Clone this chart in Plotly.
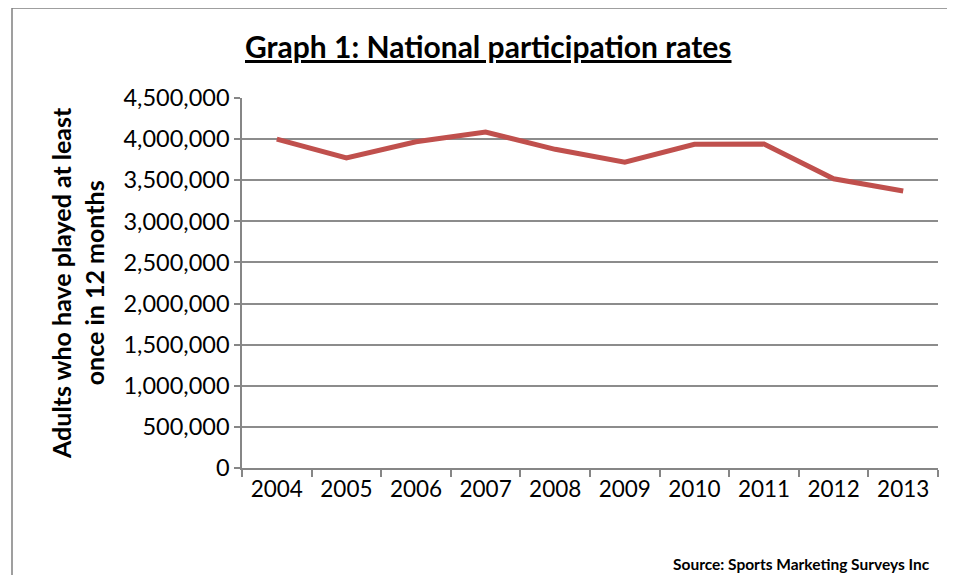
import plotly.graph_objects as go

years = ["2004", "2005", "2006", "2007", "2008", "2009", "2010", "2011", "2012", "2013"]
participants = [4000000, 3772000, 3968000, 4085000, 3876000, 3720000, 3937000, 3940000, 3518000, 3368000]
y_ticks = [0, 500000, 1000000, 1500000, 2000000, 2500000, 3000000, 3500000, 4000000, 4500000]
y_tick_labels = ["0", "500,000", "1,000,000", "1,500,000", "2,000,000", "2,500,000",
                 "3,000,000", "3,500,000", "4,000,000", "4,500,000"]

W, H = 940, 568
OFF = 7  # page offset of the figure inside the browser window
L, T = 241 - OFF, 97 - OFF
R = W - (937 - OFF)
B = H - (467 - OFF)
pw, ph = W - L - R, H - T - B

def px(x):
    return (x - OFF - L) / pw

def py(y):
    return (H - B - (y - OFF)) / ph

font = "Lato"

fig = go.Figure()
fig.add_trace(go.Scatter(
    x=years, y=participants, mode="lines",
    line=dict(color="#C0504D", width=5),
    hoverinfo="x+y",
))

fig.update_layout(
    width=W, height=H,
    margin=dict(l=L, r=R, t=T, b=B, autoexpand=False),
    paper_bgcolor="white", plot_bgcolor="white",
    showlegend=False,
    font=dict(family=font, color="black"),
    xaxis=dict(
        type="category", range=[-0.5, 9.5], tickson="boundaries",
        ticks="outside", ticklen=7,
        tickcolor="#868686", tickwidth=1.5, automargin=False,
        showline=True, linecolor="#868686", linewidth=1.5,
        showgrid=False, tickfont=dict(size=22.5, family=font),
    ),
    yaxis=dict(
        range=[0, 4500000], tickvals=y_ticks, ticktext=y_tick_labels,
        ticks="outside", ticklen=6, tickcolor="#868686", tickwidth=1.5,
        showline=True, linecolor="#868686", linewidth=1.5, automargin=False,
        showgrid=True, gridcolor="#8C8C8C", gridwidth=1.5,
        zeroline=False, tickfont=dict(size=23.5, family=font),
    ),
    annotations=[
        dict(text="<b><u>Graph 1: National participation rates</u></b>",
             xref="paper", yref="paper", x=px(487), y=py(45),
             xanchor="center", yanchor="middle", showarrow=False,
             font=dict(size=30, family=font)),
        dict(text="<b>Adults who have played at least<br>once in 12 months</b>",
             xref="paper", yref="paper", x=px(76), y=py(282),
             xanchor="center", yanchor="middle", showarrow=False, textangle=-90,
             font=dict(size=25, family=font)),
        dict(text="<b>Source: Sports Marketing Surveys Inc</b>",
             xref="paper", yref="paper", x=px(670), y=py(563),
             xanchor="left", yanchor="middle", showarrow=False,
             font=dict(size=15.5, family=font)),
    ],
    shapes=[
        dict(type="line", xref="paper", yref="paper",
             x0=px(11), y0=py(7), x1=px(980), y1=py(7),
             line=dict(color="#7F7F7F", width=1.5)),
        dict(type="line", xref="paper", yref="paper",
             x0=px(11), y0=py(7), x1=px(11), y1=py(600),
             line=dict(color="#7F7F7F", width=1.5)),
    ],
)

fig.write_html("out.html", config={"displayModeBar": False})
